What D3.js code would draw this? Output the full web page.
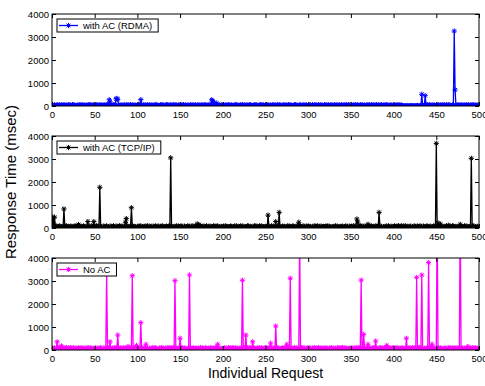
<!DOCTYPE html>
<html>
<head>
<meta charset="utf-8">
<script src="https://cdn.jsdelivr.net/npm/d3@7/dist/d3.min.js"></script>
<style>
  body { margin: 0; background: #fff; }
  svg { display: block; font-family: "Liberation Sans", Arial, Helvetica, sans-serif; }
</style>
</head>
<body>
<svg id="chart" width="485" height="386"></svg>
<script>
// ---- data -------------------------------------------------------------
const xTicks = [0, 50, 100, 150, 200, 250, 300, 350, 400, 450, 500];
const yTicks = [0, 1000, 2000, 3000, 4000];
const seriesNames = ["with AC (RDMA)", "with AC (TCP/IP)", "No AC"];
const seriesColors = ["#0000ff", "#000000", "#ff00ff"];

// steady-state response times, one digit per request (digit x scale = msec)
const rdmaBase = [
  "3425136425 2436152435 5342654213 4253625341 3526452436",
  "4153426342 3625451436 4253645342 3514352635 4263425142",
  "2536142534 5261435241 3645231546 2413562435 1462534253",
  "5243615243 4152634251 3624153426 5134263542 4352614325",
  "3614253642 5132465234 1536245143 2654132546 3214536241",
  "4526314253 6142536241 3526142635 4213564231 5423614352",
  "2354162435 4162534216 3542613524 1635243615 2436152634",
  "4315264352 1643524136 2541635243 6152436142 5364215342",
  "3425163425 1021012101 2101210120 1210121543 6253425342",
  "3526142536 4152634215 3624153426 5134263542 4352614325"
];
const rdmaScale = 10;
const rdmaSpikes = [[67,270],[68,180],[75,310],[76,330],[77,290],[104,280],[187,270],[188,230],
  [190,160],[193,120],[433,510],[437,450],[471,3260],[472,700]];

const tcpBase = [
  "4615372648 3526174836 5274163857 2463715824 6371528463",
  "5184736251 7364825173 6485172638 4726153846 5173826451",
  "6372815463 7581624735 4826173548 6135724863 7452618374",
  "5836174258 4627185364 7153846275 5826374158 6472815364",
  "3718264537 6254817365 4837162548 7265413876 5348276154",
  "6427153846 5381726453 7462518374 5286417365 4751836274",
  "7365142857 4826371564 5738264153 6482715364 7253846175",
  "4618372546 5837162485 6274815367 5483726154 6372841563",
  "5836274158 6472815364 7153846275 4826174358 6437152846",
  "5372846153 6485172638 7256413876 5348276154 6472815364"
];
const tcpScale = 12;
const tcpSpikes = [[1,480],[2,150],[3,470],[14,830],[31,150],[42,280],[49,280],[56,1770],[86,250],
  [87,410],[93,880],[139,3050],[170,180],[172,150],[253,560],[262,280],[266,680],[289,250],
  [357,390],[358,260],[370,160],[383,680],[406,100],[450,3680],[452,220],[455,170],[464,120],
  [478,160],[491,3030]];

const noacBase = [
  "3718264952 7465183927 6495182736 4852917364 5927184635",
  "3816472951 7465298361 4728195634 8261937465 3927184653",
  "6284917365 8352716492 5864137295 7416283957 6193827465",
  "4958271634 7392618457 5271938465 8614729356 4928173652",
  "6385172946 5927384615 7461829357 3918264753 6827193546",
  "7936482715 9264837156 8472913658 7365928147 6492837158",
  "5827364915 7392618457 4816273954 7461829357 9286173546",
  "8364729158 6291837465 7156283947 3618294756 5829374618",
  "8172936458 7635192847 6492837158 9385726148 7592836471",
  "6829374516 7461829357 5827364915 3816472951 6492738165"
];
const noacScale = 12;
const noacSpikes = [[6,360],[11,180],[64,3350],[68,360],[77,650],[89,150],[94,3230],[99,200],
  [104,1190],[110,250],[144,3015],[150,510],[161,3260],[194,250],[223,3030],[227,650],[235,360],
  [256,300],[262,1040],[275,250],[279,3120],[290,5000],[362,3040],[365,680],[370,250],[379,390],
  [392,200],[415,510],[427,3160],[433,3260],[441,3800],[445,250],[451,6000],[478,6000],[487,150]];

// ---- build series -----------------------------------------------------
function buildSeries(base, scale, spikes) {
  const digits = base.join("").replace(/\s/g, "");
  const vals = Array.from(digits, c => +c * scale);
  spikes.forEach(([i, v]) => { vals[i] = v; });
  return vals.map((v, i) => ({ i, v }));
}
const series = [
  buildSeries(rdmaBase, rdmaScale, rdmaSpikes),
  buildSeries(tcpBase, tcpScale, tcpSpikes),
  buildSeries(noacBase, noacScale, noacSpikes)
];

// ---- layout -----------------------------------------------------------
const svg = d3.select("#chart");
const left = 52, right = 479, panelH = 92;
const panelTops = [14, 136, 258];
const x = d3.scaleLinear().domain([0, 500]).range([left, right]);
const fontSize = "9.5px";

// eight-armed asterisk marker
function starPath(r) {
  const d = r * Math.SQRT1_2;
  return `M${-r},0L${r},0M0,${-r}L0,${r}M${-d},${-d}L${d},${d}M${-d},${d}L${d},${-d}`;
}
const star = starPath(2.6);

series.forEach((data, k) => {
  const top = panelTops[k];
  const y = d3.scaleLinear().domain([0, 4000]).range([top + panelH, top]);
  const color = seriesColors[k];
  const g = svg.append("g");

  const clipId = "clip" + k;
  svg.append("clipPath").attr("id", clipId)
    .append("rect").attr("x", left).attr("y", top).attr("width", right - left).attr("height", panelH);

  const plot = g.append("g").attr("clip-path", `url(#${clipId})`);
  const line = d3.line().x(d => x(d.i)).y(d => y(d.v));
  plot.append("path").datum(data)
    .attr("d", line).attr("fill", "none")
    .attr("stroke", color).attr("stroke-width", 1.3).attr("stroke-linejoin", "miter");
  plot.append("g").selectAll("path").data(data).join("path")
    .attr("transform", d => `translate(${x(d.i)},${y(d.v)})`)
    .attr("d", star).attr("fill", "none").attr("stroke", color).attr("stroke-width", 1);

  // axes with inward ticks on all four sides
  const axB = g.append("g").attr("transform", `translate(0,${top + panelH})`)
    .call(d3.axisBottom(x).tickValues(xTicks).tickSizeInner(-4).tickSizeOuter(0).tickPadding(5));
  const axT = g.append("g").attr("transform", `translate(0,${top})`)
    .call(d3.axisTop(x).tickValues(xTicks).tickSizeInner(-4).tickSizeOuter(0).tickFormat(""));
  const axL = g.append("g").attr("transform", `translate(${left},0)`)
    .call(d3.axisLeft(y).tickValues(yTicks).tickSizeInner(-4).tickSizeOuter(0).tickPadding(3).tickFormat(d3.format("d")));
  const axR = g.append("g").attr("transform", `translate(${right},0)`)
    .call(d3.axisRight(y).tickValues(yTicks).tickSizeInner(-4).tickSizeOuter(0).tickFormat(""));
  [axB, axT, axL, axR].forEach(a => {
    a.select(".domain").remove();
    a.selectAll("line").attr("stroke", "#000");
    a.selectAll("text").attr("fill", "#000").style("font-size", fontSize).style("font-family", null);
  });
  g.append("rect").attr("x", left).attr("y", top).attr("width", right - left).attr("height", panelH)
    .attr("fill", "none").attr("stroke", "#000").attr("stroke-width", 1);

  // legend
  const lg = g.append("g").attr("transform", `translate(57,${top + 5})`);
  const box = lg.append("rect").attr("x", 0).attr("y", 0).attr("height", 13)
    .attr("fill", "#fff").attr("stroke", "#000").attr("stroke-width", 1);
  lg.append("line").attr("x1", 2).attr("x2", 21).attr("y1", 6.5).attr("y2", 6.5)
    .attr("stroke", color).attr("stroke-width", 1.3);
  lg.append("path").attr("transform", "translate(11.5,6.5)").attr("d", star)
    .attr("fill", "none").attr("stroke", color).attr("stroke-width", 1);
  const txt = lg.append("text").attr("x", 26).attr("y", 10).style("font-size", fontSize)
    .attr("fill", "#000").text(seriesNames[k]);
  box.attr("width", 26 + txt.node().getComputedTextLength() + 6);
});

// axis titles
svg.append("text").attr("transform", "translate(16,182) rotate(-90)")
  .attr("text-anchor", "middle").style("font-size", "15px").text("Response Time (msec)");
svg.append("text").attr("x", (left + right) / 2).attr("y", 378)
  .attr("text-anchor", "middle").style("font-size", "14px").text("Individual Request");
</script>
</body>
</html>
